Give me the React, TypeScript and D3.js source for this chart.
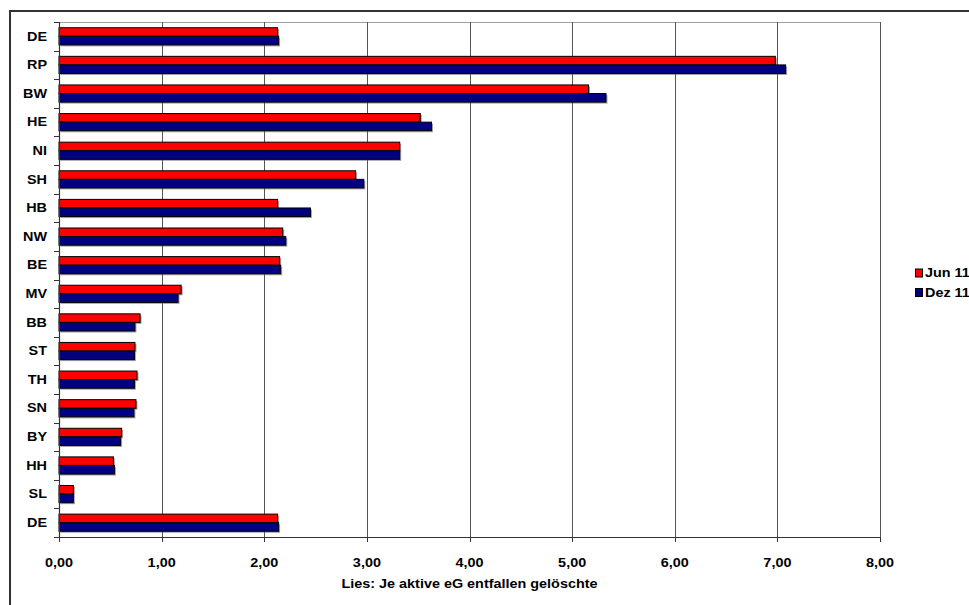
import React from "react";
import * as d3 from "d3";

const categories = ["DE", "RP", "BW", "HE", "NI", "SH", "HB", "NW", "BE", "MV", "BB", "ST", "TH", "SN", "BY", "HH", "SL", "DE "];
const jun11 = [2.13, 6.98, 5.16, 3.52, 3.32, 2.89, 2.13, 2.18, 2.15, 1.19, 0.79, 0.74, 0.76, 0.75, 0.61, 0.53, 0.14, 2.13];
const dez11 = [2.14, 7.08, 5.33, 3.63, 3.32, 2.97, 2.45, 2.21, 2.16, 1.16, 0.74, 0.735, 0.735, 0.73, 0.6, 0.54, 0.14, 2.14];
const xTicks = [0, 1, 2, 3, 4, 5, 6, 7, 8];
const seriesNames = ["Jun 11", "Dez 11"];
const seriesColors = ["#FF0000", "#000080"];
const axisTitle = "Lies: Je aktive eG entfallen gelöschte";

const W = 969;
const H = 605;
const left = 59;
const right = 880;
const top = 22;
const bottom = 537;

const font = "'Liberation Sans', Arial, sans-serif";
const SX = 1.2;

type TProps = { x: number; y: number; anchor?: "start" | "middle" | "end"; children: React.ReactNode };

// Bold label text, slightly widened horizontally
function Label({ x, y, anchor = "start", children }: TProps) {
  return (
    <text
      transform={`translate(${x},${y}) scale(${SX},1)`}
      dy="0.35em"
      textAnchor={anchor}
      fontSize={12}
      fontWeight="bold"
      fill="#000"
    >
      {children}
    </text>
  );
}

export default function App() {
  const x = d3.scaleLinear().domain([0, 8]).range([left, right]);
  const y = d3.scaleBand<number>().domain(d3.range(categories.length)).range([top, bottom]).paddingInner(0);
  const bw = y.bandwidth();
  const barH = bw * 0.3;
  const groupOffset = (bw - 2 * barH) / 2;
  const fmt = (v: number) => v.toFixed(2).replace(".", ",");
  const series = [jun11, dez11];

  return (
    <div style={{ position: "fixed", left: 0, top: 0, width: W, height: H, overflow: "hidden" }}>
      <svg width={W} height={H} style={{ display: "block", background: "#fff" }} fontFamily={font}>
        <rect x={0} y={0} width={W} height={H} fill="#fff" />
        {/* chart frame (left and top edges) */}
        <line x1={10} x2={W} y1={11} y2={11} stroke="#333" strokeWidth={2} />
        <line x1={10} x2={10} y1={10} y2={H} stroke="#333" strokeWidth={2} />

        {/* plot area top edge */}
        <line x1={left} x2={right} y1={top + 0.5} y2={top + 0.5} stroke="#a0a0a0" strokeWidth={1} />

        {/* vertical gridlines */}
        {xTicks.filter((t) => t > 0).map((t) => (
          <line key={"g" + t} x1={Math.round(x(t)) + 0.5} x2={Math.round(x(t)) + 0.5} y1={top} y2={bottom} stroke="#555" strokeWidth={1} />
        ))}

        {/* bars */}
        {categories.map((c, i) =>
          series.map((s, k) => {
            const by = (y(i) as number) + groupOffset + k * barH;
            const bx = x(0);
            const w = x(s[i]) - x(0);
            return (
              <g key={c + k}>
                <rect x={bx + 1.5} y={by + 1.5} width={w} height={barH} fill="#555" opacity={0.55} />
                <rect x={bx} y={by} width={w} height={barH} fill={seriesColors[k]} stroke="#000" strokeWidth={1} />
              </g>
            );
          })
        )}

        {/* y axis */}
        <line x1={left + 0.5} x2={left + 0.5} y1={top} y2={bottom} stroke="#333" strokeWidth={1.2} />
        {d3.range(categories.length + 1).map((i) => {
          const yy = Math.round(top + i * bw) + 0.5;
          return <line key={"yt" + i} x1={left - 5} x2={left} y1={yy} y2={yy} stroke="#333" strokeWidth={1} />;
        })}
        {categories.map((c, i) => (
          <Label key={"yl" + i} x={47} y={(y(i) as number) + bw / 2} anchor="end">
            {c.trim()}
          </Label>
        ))}

        {/* x axis */}
        <line x1={left} x2={right} y1={bottom + 0.5} y2={bottom + 0.5} stroke="#333" strokeWidth={1.2} />
        {xTicks.map((t) => (
          <g key={"xt" + t}>
            <line x1={Math.round(x(t)) + 0.5} x2={Math.round(x(t)) + 0.5} y1={bottom} y2={bottom + 5} stroke="#333" strokeWidth={1} />
            <Label x={x(t)} y={563} anchor="middle">
              {fmt(t)}
            </Label>
          </g>
        ))}
        <Label x={(left + right) / 2} y={584} anchor="middle">
          {axisTitle}
        </Label>

        {/* legend */}
        {seriesNames.map((n, k) => {
          const ly = 273 + k * 19.5;
          return (
            <g key={n}>
              <rect x={915.5} y={ly - 4} width={7} height={8} fill={seriesColors[k]} stroke="#000" strokeWidth={1} />
              <Label x={925} y={ly}>
                {n}
              </Label>
            </g>
          );
        })}
      </svg>
    </div>
  );
}
